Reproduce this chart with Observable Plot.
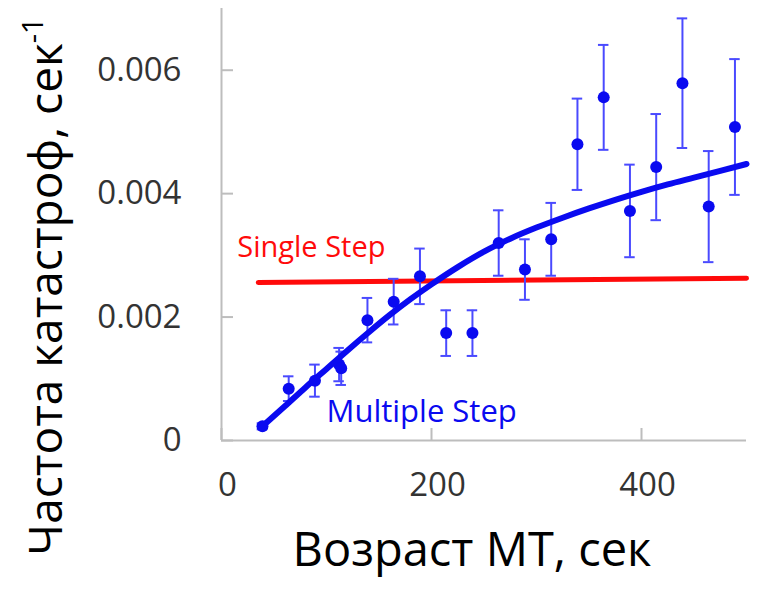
<!DOCTYPE html>
<html>
<head>
<meta charset="utf-8">
<script src="https://cdn.jsdelivr.net/npm/d3@7"></script>
<script src="https://cdn.jsdelivr.net/npm/@observablehq/plot@0.6"></script>
<style>
  html, body { margin: 0; padding: 0; background: #fff; }
  #chart { width: 765px; height: 592px; }
</style>
</head>
<body>
<div id="chart"></div>
<script>
// Measured catastrophe frequency vs microtubule age (mean ± error)
const ageSec  = [39, 64, 89, 112, 114, 139, 164, 189, 214, 239, 264, 289, 314, 339, 364, 389, 414, 439, 464, 489];
const rate    = [0.00023, 0.00084, 0.00097, 0.00123, 0.00117, 0.00195, 0.00225, 0.00266, 0.00174, 0.00174,
                 0.00320, 0.00277, 0.00326, 0.00480, 0.00556, 0.00372, 0.00443, 0.00579, 0.00379, 0.00508];
const rateErr = [0.00005, 0.00020, 0.00026, 0.00027, 0.00027, 0.00036, 0.00037, 0.00045, 0.00037, 0.00037,
                 0.00053, 0.00049, 0.00059, 0.00074, 0.00085, 0.00075, 0.00086, 0.00105, 0.00090, 0.00110];

// Multiple-step model curve
const fitAge  = [39, 60, 80, 100, 120, 140, 160, 180, 200, 225, 250, 275, 300, 325, 350, 375, 400, 425, 450, 475, 500];
const fitRate = [0.00023, 0.00055, 0.00086, 0.00116, 0.00146, 0.00175, 0.00203, 0.00229, 0.00253, 0.00281,
                 0.00306, 0.00327, 0.00345, 0.00361, 0.00376, 0.00390, 0.00403, 0.00415, 0.00426, 0.00437, 0.00448];

// Single-step model (constant rate)
const singleAge  = [35, 500];
const singleRate = [0.00256, 0.00263];

const xTicks = [0, 200, 400];
const yTicks = [0, 0.002, 0.004, 0.006];
const yTickLabels = ["0", "0.002", "0.004", "0.006"];

const xTitle = "Возраст МТ, сек";
const yTitle = "Частота катастроф, сек";
const yTitleSup = "-1";
const singleLabel = "Single Step";
const multipleLabel = "Multiple Step";

const points = ageSec.map((t, i) => ({t, v: rate[i], e: rateErr[i]}));
const fit = fitAge.map((t, i) => ({t, v: fitRate[i]}));
const single = singleAge.map((t, i) => ({t, v: singleRate[i]}));

const BLUE = "#0a0af0";
const BAR = "#4a4aff";
const RED = "#ff0a0a";
const AXIS = "#bdbdbd";
const LABEL = "#333333";

const chart = Plot.plot({
  width: 765,
  height: 592,
  marginLeft: 221,
  marginRight: 19,
  marginTop: 8,
  marginBottom: 152,
  style: {fontFamily: "'Open Sans', sans-serif", background: "#fff", overflow: "visible"},
  x: {domain: [0, 500]},
  y: {domain: [0, 0.007]},
  marks: [
    // frame lines
    Plot.ruleX([0], {stroke: AXIS, strokeWidth: 2}),
    Plot.ruleY([0], {stroke: AXIS, strokeWidth: 2}),
    // inward ticks
    Plot.axisY({ticks: yTicks, tickSize: 12, dx: 12, tickFormat: () => "", stroke: AXIS, strokeWidth: 2, label: null}),
    Plot.axisX({ticks: xTicks, tickSize: 12, dy: -12, tickFormat: () => "", stroke: AXIS, strokeWidth: 2, label: null}),
    // tick labels
    Plot.axisY({ticks: yTicks, tickSize: 0, tickPadding: 40, tickFormat: (d) => yTickLabels[yTicks.indexOf(d)],
                fontSize: 33, fill: LABEL, label: null}),
    Plot.axisX({ticks: xTicks, tickSize: 0, tickPadding: 32, tickFormat: (d) => String(d),
                fontSize: 33, fill: LABEL, label: null, dx: 6}),
    // single-step model
    Plot.line(single, {x: "t", y: "v", stroke: RED, strokeWidth: 5}),
    // error bars with caps
    Plot.ruleX(points, {x: "t", y1: (d) => d.v - d.e, y2: (d) => d.v + d.e, stroke: BAR, strokeWidth: 2}),
    Plot.ruleY(points, {y: (d) => d.v + d.e, x1: (d) => d.t - 5, x2: (d) => d.t + 5, stroke: BAR, strokeWidth: 2}),
    Plot.ruleY(points, {y: (d) => d.v - d.e, x1: (d) => d.t - 5, x2: (d) => d.t + 5, stroke: BAR, strokeWidth: 2}),
    // multiple-step model
    Plot.line(fit, {x: "t", y: "v", stroke: BLUE, strokeWidth: 6, curve: "monotone-x"}),
    Plot.dot(points, {x: "t", y: "v", r: 6, fill: BLUE, stroke: "none"}),
    // series labels
    Plot.text([singleLabel], {x: 15, y: 0.00312, text: (d) => d, textAnchor: "start", fill: RED, fontSize: 29}),
    Plot.text([multipleLabel], {x: 100, y: 0.00046, text: (d) => d, textAnchor: "start", fill: BLUE, fontSize: 31}),
    // axis titles
    Plot.text([xTitle], {frameAnchor: "bottom", text: (d) => d, dy: 125, dx: -12, fontSize: 47, fill: "#000"}),
    Plot.text([yTitle], {frameAnchor: "left", textAnchor: "middle", text: (d) => d, rotate: -90, dx: -174, dy: 62,
                         fontSize: 46, fill: "#000", className: "ytitle"})
  ]
});

// superscript on the y-axis unit
d3.select(chart).select(".ytitle text")
  .append("tspan")
  .attr("baseline-shift", "super")
  .attr("font-size", 29)
  .text(yTitleSup);

document.getElementById("chart").appendChild(chart);
</script>
</body>
</html>
